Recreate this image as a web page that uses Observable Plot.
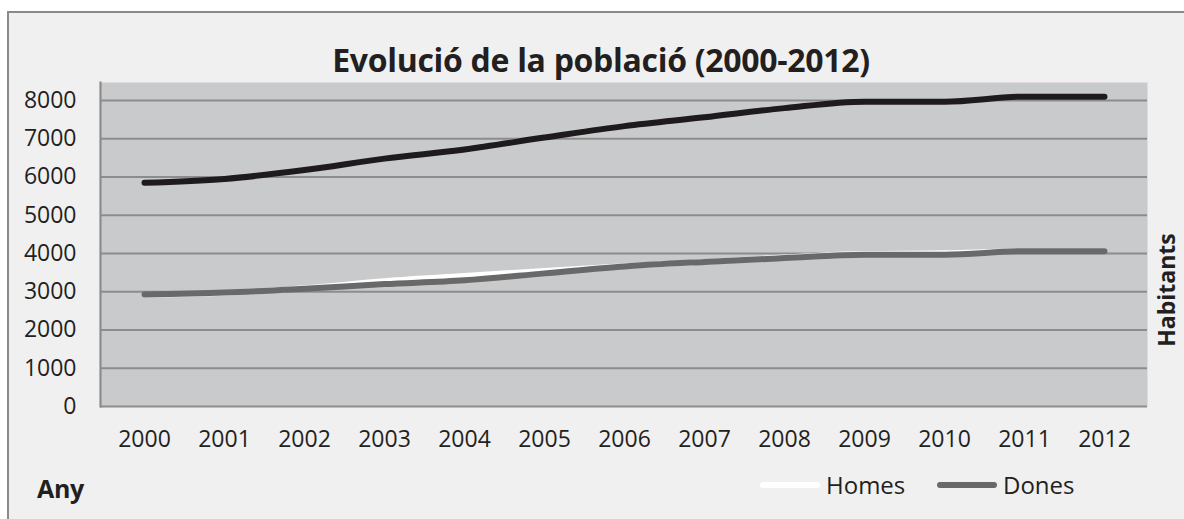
<!DOCTYPE html>
<html><head><meta charset="utf-8">
<script src="https://cdn.jsdelivr.net/npm/d3@7"></script>
<script src="https://cdn.jsdelivr.net/npm/@observablehq/plot@0.6"></script>
<style>
body{margin:0;background:#fff;font-family:"Open Sans",sans-serif;color:#231f20;}
#wrap{position:relative;width:1184px;height:519px;overflow:hidden;background:#fff;}
#frame{position:absolute;left:7px;top:11px;width:1200px;height:530px;border:2px solid #8a8a8a;background:#f0f0f0;box-sizing:border-box;}
#chart{position:absolute;left:0;top:0;}
.t{position:absolute;white-space:nowrap;}
#title{left:0;width:1202px;text-align:center;top:38px;font-weight:bold;font-size:32px;letter-spacing:-0.3px;}
#any{left:37px;top:471px;font-weight:bold;font-size:25px;letter-spacing:-0.3px;}
#hab{left:1166px;top:290px;font-weight:bold;font-size:23px;transform:translate(-50%,-50%) rotate(-90deg);}
.leg{position:absolute;top:468px;font-size:24px;display:flex;align-items:center;}
.sw{display:inline-block;width:60px;height:6px;border-radius:3px;margin-right:6px;}
</style></head>
<body>
<div id="wrap">
  <div id="frame"></div>
  <div id="chart"></div>
  <div class="t" id="title">Evolució de la població (2000-2012)</div>
  <div class="t" id="any">Any</div>
  <div class="t" id="hab">Habitants</div>
  <div class="leg" style="left:760px;"><span class="sw" style="background:#ffffff"></span>Homes</div>
  <div class="leg" style="left:937px;"><span class="sw" style="background:#696969"></span>Dones</div>
</div>
<script>
const years = ["2000","2001","2002","2003","2004","2005","2006","2007","2008","2009","2010","2011","2012"];
const total = [5850,5950,6180,6480,6720,7030,7330,7560,7800,7970,7970,8100,8100];
const homes = [2920,2970,3100,3280,3420,3550,3670,3780,3900,3990,4010,4060,4060];
const dones = [2930,2980,3080,3200,3300,3480,3660,3780,3880,3970,3970,4060,4060];
const yTicks = [0,1000,2000,3000,4000,5000,6000,7000,8000];

const rows = (vals) => years.map((y,i)=>({year:y, value:vals[i]}));

const chart = Plot.plot({
  width:1184, height:519,
  marginLeft:100, marginRight:37, marginTop:82, marginBottom:113,
  style:{background:"transparent", fontFamily:"Open Sans, sans-serif", color:"#231f20"},
  x:{type:"point", domain:years, padding:0.5},
  y:{domain:[0,8470]},
  marks:[
    Plot.frame({fill:"#c9cacc", stroke:null}),
    Plot.ruleY(yTicks, {stroke:"#8c8c8c", strokeWidth:2.2}),
    Plot.frame({anchor:"left", stroke:"#8c8c8c", strokeWidth:2.2}),
    Plot.axisY({ticks:yTicks, tickSize:0, tickPadding:24, fontSize:23, label:null, tickFormat:d=>String(d)}),
    Plot.axisX({tickSize:0, tickPadding:24, fontSize:23, label:null}),
    Plot.line(rows(homes), {x:"year", y:"value", stroke:"#ffffff", strokeWidth:5.5, curve:"monotone-x"}),
    Plot.line(rows(dones), {x:"year", y:"value", stroke:"#696969", strokeWidth:6, curve:"monotone-x"}),
    Plot.line(rows(total), {x:"year", y:"value", stroke:"#1f1a1c", strokeWidth:6, curve:"monotone-x"})
  ]
});
document.getElementById("chart").appendChild(chart);
</script>
</body></html>
